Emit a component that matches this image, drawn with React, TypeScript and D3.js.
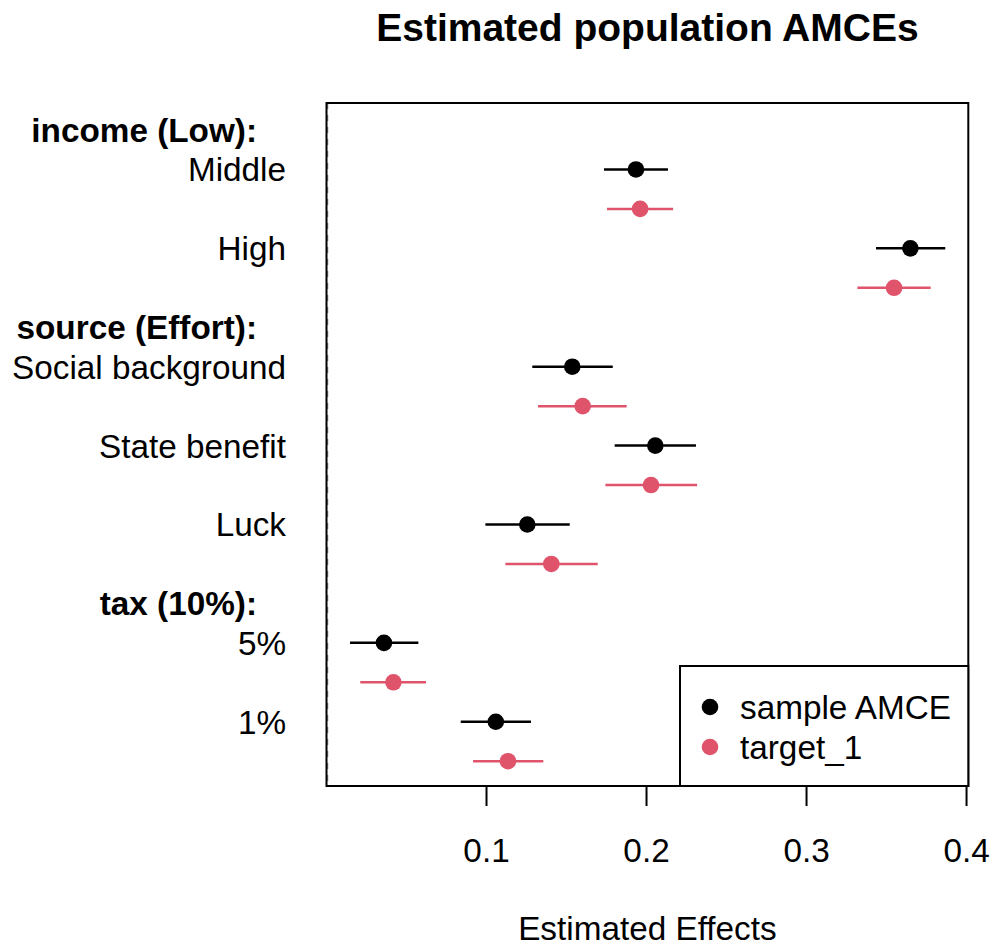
import * as d3 from 'd3';

const groups = ['income (Low):', 'source (Effort):', 'tax (10%):'];
const levels = ['Middle', 'High', 'Social background', 'State benefit', 'Luck', '5%', '1%'];
const levelGroup = [0, 0, 1, 1, 1, 2, 2];

const sampleEst = [0.1934, 0.3649, 0.1536, 0.2055, 0.1255, 0.0359, 0.1058];
const sampleLow = [0.1734, 0.3434, 0.1286, 0.1801, 0.0993, 0.0147, 0.0839];
const sampleHigh = [0.2134, 0.3867, 0.1789, 0.2309, 0.152, 0.0574, 0.1278];

const targetEst = [0.196, 0.3547, 0.1601, 0.2028, 0.1405, 0.0418, 0.1134];
const targetLow = [0.1753, 0.3318, 0.1322, 0.1743, 0.1118, 0.0211, 0.0916];
const targetHigh = [0.2166, 0.3776, 0.1876, 0.2316, 0.1695, 0.0622, 0.1355];

const xTicks = [0.1, 0.2, 0.3, 0.4];
const seriesNames = ['sample AMCE', 'target_1'];
const seriesColors = ['#000000', '#DF536B'];

const W = 995;
const H = 947;
const box = { left: 326.5, right: 968.3, top: 103, bottom: 786 };
const font = '"Liberation Sans", Arial, sans-serif';
const fs = 33.3;

// slot layout: header, then levels half a slot later, next header one slot after last level
const headerPos: number[] = [];
const levelPos: number[] = [];
{
  let p = 0;
  groups.forEach((_, g) => {
    headerPos.push(p);
    p += 0.5;
    levels.forEach((_, i) => {
      if (levelGroup[i] === g) {
        levelPos[i] = p;
        p += 1;
      }
    });
  });
}

const App = () => {
  const x = d3.scaleLinear().domain([0, 0.4011]).range([box.left, box.right]);
  const y = d3.scaleLinear().domain([0, 8]).range([130, 761.2]);
  const capOff = fs * 0.358;

  const series = [
    { est: sampleEst, lo: sampleLow, hi: sampleHigh, off: 0 },
    { est: targetEst, lo: targetLow, hi: targetHigh, off: 0.5 },
  ];

  return (
    <svg
      width={W}
      height={H}
      viewBox={`0 0 ${W} ${H}`}
      style={{ position: 'absolute', left: 0, top: 0, background: '#fff' }}
      fontFamily={font}
    >
      <text x={(box.left + box.right) / 2} y={41} textAnchor="middle" fontSize={39} fontWeight="bold">
        Estimated population AMCEs
      </text>

      {/* zero reference */}
      <line
        x1={x(0) + 1}
        x2={x(0) + 1}
        y1={box.top}
        y2={box.bottom}
        stroke="#888"
        strokeWidth={1.5}
        strokeDasharray="6 6"
      />

      {series.map((s, si) =>
        levels.map((_, i) => (
          <g key={`${si}-${i}`}>
            <line
              x1={x(s.lo[i])}
              x2={x(s.hi[i])}
              y1={y(levelPos[i] + s.off)}
              y2={y(levelPos[i] + s.off)}
              stroke={seriesColors[si]}
              strokeWidth={2.5}
            />
            <circle cx={x(s.est[i])} cy={y(levelPos[i] + s.off)} r={8.3} fill={seriesColors[si]} />
          </g>
        ))
      )}

      <rect
        x={box.left}
        y={box.top}
        width={box.right - box.left}
        height={box.bottom - box.top}
        fill="none"
        stroke="#000"
        strokeWidth={2}
      />

      {xTicks.map(t => (
        <g key={t}>
          <line x1={x(t)} x2={x(t)} y1={box.bottom} y2={box.bottom + 20} stroke="#000" strokeWidth={2} />
          <text x={x(t)} y={862} textAnchor="middle" fontSize={fs}>
            {t.toFixed(1)}
          </text>
        </g>
      ))}
      <text x={(box.left + box.right) / 2} y={940} textAnchor="middle" fontSize={fs}>
        Estimated Effects
      </text>

      {groups.map((g, gi) => (
        <text key={g} x={257} y={y(headerPos[gi]) + capOff} textAnchor="end" fontSize={fs} fontWeight="bold">
          {g}
        </text>
      ))}
      {levels.map((l, i) => (
        <text key={l} x={286} y={y(levelPos[i]) + capOff} textAnchor="end" fontSize={fs}>
          {l}
        </text>
      ))}

      {/* legend */}
      <rect x={680} y={666} width={box.right - 680} height={box.bottom - 666} fill="#fff" stroke="#000" strokeWidth={2} />
      {seriesNames.map((n, i) => (
        <g key={n}>
          <circle cx={710} cy={707 + i * 40} r={8.3} fill={seriesColors[i]} />
          <text x={740} y={707 + i * 40 + capOff} fontSize={fs}>
            {n}
          </text>
        </g>
      ))}
    </svg>
  );
};

export default App;
